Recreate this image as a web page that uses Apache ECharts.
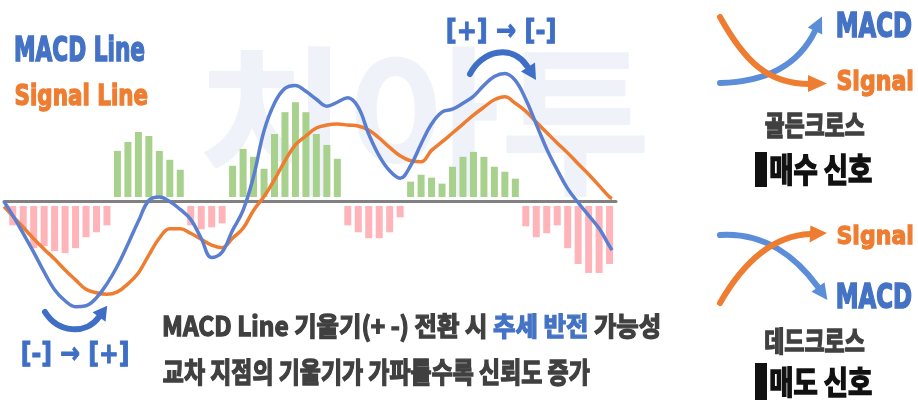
<!DOCTYPE html>
<html><head><meta charset="utf-8">
<script src="https://cdn.jsdelivr.net/npm/echarts@6/dist/echarts.min.js"></script>
<style>html,body{margin:0;padding:0;background:#fff}#c{width:918px;height:400px}</style>
</head><body><div id="c"></div>
<script>
// ---------- data ----------
const slots = [0,1,2,3,4,5,6,7,8,9,10,11,12,13,14,15,16,17,18,19,20,21,22,23,24,25,26,27,28,29,30,31,32,33,34,35,36,37,38,39,40,41,42,43,44,45,46,47,48,49,50,51,52,53,54,55,56,57];
const histogram = [
  -0.24,-0.30,-0.47,-0.45,-0.50,-0.52,-0.47,-0.36,-0.31,-0.24,
  0.51,0.60,0.70,0.66,0.51,0.42,0.32,
  -0.24,-0.28,-0.26,-0.22,
  0.36,0.53,0.45,0.33,0.68,0.90,1.00,0.90,0.68,0.57,0.43,
  -0.24,-0.31,-0.37,-0.37,-0.31,-0.16,
  0.20,0.27,0.24,0.18,0.35,0.45,0.50,0.45,0.35,0.30,0.23,
  -0.25,-0.36,-0.32,-0.24,-0.47,-0.63,-0.72,-0.72,-0.63
];
const lineX = [-0.83,0,1,2,3,4,5,6,7,8,9,10,11,12,13,14,15,16,17,18,19,20,21,22,23,24,25,26,27,28,29,30,31,32,33,34,35,36,37,38,39,40,41,42,43,44,45,46,47,48,49,50,51,52,53,54,55,56,57,57.24];
const macdLine = [0.0,
  -0.14,-0.32,-0.51,-0.71,-0.89,-1.00,-1.06,-1.05,-0.97,-0.83,
  -0.65,-0.43,-0.20,0.01,0.045,0.0,-0.08,-0.18,-0.37,-0.565,
  -0.51,-0.29,-0.09,0.25,0.71,0.99,1.14,1.17,1.11,1.03,
  0.96,1.00,1.045,0.95,0.68,0.46,0.31,0.235,0.36,0.58,
  0.78,0.90,0.93,0.99,1.06,1.17,1.26,1.29,1.22,1.03,
  0.78,0.53,0.32,0.13,-0.01,-0.14,-0.27,-0.45,
  -0.49];
const signalLine = [-0.05,
  -0.145,-0.26,-0.375,-0.48,-0.58,-0.69,-0.79,-0.885,-0.92,-0.935,
  -0.91,-0.83,-0.72,-0.54,-0.37,-0.275,-0.275,-0.32,-0.38,-0.44,
  -0.465,-0.37,-0.27,-0.09,0.05,0.22,0.41,0.57,0.66,0.74,
  0.77,0.78,0.77,0.76,0.72,0.64,0.545,0.46,0.41,0.40,
  0.515,0.60,0.69,0.78,0.87,0.95,1.025,1.055,0.99,0.91,
  0.80,0.695,0.59,0.49,0.38,0.275,0.16,0.045,
  0.03];

// ---------- styling ----------
const GAP = 0.045;
const BLUE_LINE = '#5B7FD0', ORANGE = '#EE7D31', TXT_BLUE = '#4472C4', ARROW_BLUE = '#3F6EC6';
const GREEN = '#A9D18E', PINK = '#FFB4B9', DARK = '#404040';
const LATIN = "'DejaVu Sans'", KR = "'Noto Sans CJK KR'";

const cv = document.createElement('canvas').getContext('2d');
function measure(text, font){ cv.font = font; cv.textBaseline = 'middle'; return cv.measureText(text); }
function fitText(segs, box, opt){
  const weight = opt.weight || 'bold', size = opt.size || 40, family = opt.family;
  const sw = opt.stroke == null ? 0 : opt.stroke;
  const font = weight + ' ' + size + 'px ' + family;
  const full = segs.map(s => s[0]).join('');
  const mf = measure(full, font);
  const ref = measure(opt.ref || full, font);
  const w = mf.actualBoundingBoxRight + mf.actualBoundingBoxLeft + sw;
  const sx = (box[2] - box[0]) / w;
  const asc = ref.actualBoundingBoxAscent + sw / 2, desc = ref.actualBoundingBoxDescent + sw / 2;
  const sy = (box[3] - box[1]) / (asc + desc);
  const out = []; let prefix = '';
  segs.forEach(s => {
    const off = prefix ? measure(prefix, font).width : 0;
    const st = {text:s[0], x:0, y:asc, fill:s[1], fontSize:size, fontWeight:weight, fontFamily:family, align:'left', verticalAlign:'middle'};
    if (sw > 0) { st.stroke = s[1]; st.lineWidth = sw; st.lineJoin = 'round'; }
    out.push({type:'text', silent:true, z: opt.z == null ? 20 : opt.z,
      x: box[0] + (off + mf.actualBoundingBoxLeft + sw / 2) * sx, y: box[1], scaleX: sx, scaleY: sy, style: st});
    prefix += s[0];
  });
  return out;
}
function curve(p, color, w){
  return {type:'bezierCurve', silent:true, z:15,
    shape:{x1:p[0],y1:p[1],cpx1:p[2],cpy1:p[3],cpx2:p[4],cpy2:p[5],x2:p[6],y2:p[7]},
    style:{stroke:color, lineWidth:w, fill:null, lineCap:'round'}};
}
function head(pts, color){
  return {type:'polygon', silent:true, z:15, shape:{points:pts}, style:{fill:color}};
}

const graphics = [].concat(
  fitText([['치아투', '#EFF3F9']], [203, 45, 645, 197], {family:KR, size:150, z:0}),
  fitText([['MACD Line', TXT_BLUE]], [15, 35, 145, 63], {family:LATIN, ref:'MACDL', stroke:2}),
  fitText([['Signal Line', ORANGE]], [15, 82.7, 148, 111.7], {family:LATIN, stroke:2}),
  fitText([['[+] → [-]', ARROW_BLUE]], [447, 17, 555, 45], {family:LATIN, stroke:1.5}),
  fitText([['[-] → [+]', ARROW_BLUE]], [22, 340, 128, 368], {family:LATIN, stroke:1.5}),
  [curve([470,74,482,50,512,44,527,66], ARROW_BLUE, 6), head([[536,80],[535,62.5],[521,71.5]], ARROW_BLUE)],
  [curve([45,312,58,333,86,335,99,317], ARROW_BLUE, 6), head([[107.2,305.7],[105.5,321.7],[92.5,312.3]], ARROW_BLUE)],
  fitText([['MACD Line 기울기(+ -) 전환 시 ', DARK], ['추세 반전', TXT_BLUE], [' 가능성', DARK]], [163, 312, 660, 340], {family:KR, size:32, ref:'기울기전환가능성', stroke:1.6}),
  fitText([['교차 지점의 기울기가 가파를수록 신뢰도 증가', DARK]], [163, 357, 590, 387], {family:KR, size:32, stroke:1.6}),
  // golden cross
  [curve([720,83,765,82,798,66,815,31], '#5B8DD9', 6), head([[822,16.6],[822.2,34.5],[807.8,27.5]], '#5B8DD9')],
  [curve([720,17,745,62,768,84,810,84], ORANGE, 6), head([[827,83.5],[808,75],[808,92]], ORANGE)],
  fitText([['MACD', TXT_BLUE]], [837, 10, 912, 38.3], {family:LATIN, stroke:2}),
  fitText([['Signal', ORANGE]], [837, 68.3, 913, 96.7], {family:LATIN, stroke:2}),
  fitText([['골든크로스', DARK]], [765, 112, 865, 140], {family:KR, size:32, stroke:1.6}),
  [{type:'rect', silent:true, z:20, shape:{x:755, y:152, width:12, height:35}, style:{fill:'#111'}}],
  fitText([['매수 신호', '#111']], [770, 152, 872, 187], {family:KR, size:36, stroke:1.8}),
  // dead cross
  [curve([720,235,765,232,797,258,818,287], '#5B8DD9', 6), head([[827.4,300],[824.5,282.3],[811.5,291.7]], '#5B8DD9')],
  [curve([720,303,740,268,768,236,810,234], ORANGE, 6), head([[827,233],[810.4,225.5],[809.6,242.5]], ORANGE)],
  fitText([['Signal', ORANGE]], [837, 223.3, 913, 250], {family:LATIN, stroke:2}),
  fitText([['MACD', TXT_BLUE]], [837, 281.7, 912, 310], {family:LATIN, stroke:2}),
  fitText([['데드크로스', DARK]], [765, 326, 865, 356], {family:KR, size:32, stroke:1.6}),
  [{type:'rect', silent:true, z:20, shape:{x:755, y:363, width:12, height:37}, style:{fill:'#111'}}],
  fitText([['매도 신호', '#111']], [770, 365, 872, 398], {family:KR, size:36, stroke:1.8})
);

const chart = echarts.init(document.getElementById('c'), null, {renderer:'canvas'});
chart.setOption({
  animation:false,
  backgroundColor:'#ffffff',
  grid:[
    {left:7.5, width:607.3, top:3, height:400},
    {left:4, width:612, top:3, height:400}
  ],
  xAxis:[
    {type:'category', gridIndex:0, data:slots, show:false, boundaryGap:true},
    {type:'value', gridIndex:1, min:-0.83, max:57.62, show:true,
      axisLine:{show:true, onZero:true, lineStyle:{color:'#808080', width:3}},
      axisTick:{show:false}, axisLabel:{show:false}, splitLine:{show:false}}
  ],
  yAxis:[
    {type:'value', gridIndex:0, min:-2, max:2, show:false},
    {type:'value', gridIndex:1, min:-2, max:2, show:false}
  ],
  graphic:{elements:graphics},
  series:[
    {type:'bar', xAxisIndex:0, yAxisIndex:0, stack:'hist', barWidth:7, silent:true,
      data:histogram.map(v => v >= 0 ? GAP : -GAP), itemStyle:{color:'rgba(0,0,0,0)'}},
    {type:'bar', xAxisIndex:0, yAxisIndex:0, stack:'hist', barWidth:7, silent:true,
      data:histogram.map(v => v >= 0 ? v - GAP : v + GAP),
      itemStyle:{color: p => histogram[p.dataIndex] >= 0 ? GREEN : PINK}},
    {type:'line', xAxisIndex:1, yAxisIndex:1, smooth:0.4, showSymbol:false, silent:true, z:5,
      data:lineX.map((x,i) => [x, signalLine[i]]), lineStyle:{color:ORANGE, width:3.5}},
    {type:'line', xAxisIndex:1, yAxisIndex:1, smooth:0.4, showSymbol:false, silent:true, z:6,
      data:lineX.map((x,i) => [x, macdLine[i]]), lineStyle:{color:BLUE_LINE, width:3.5}}
  ]
});
</script></body></html>
